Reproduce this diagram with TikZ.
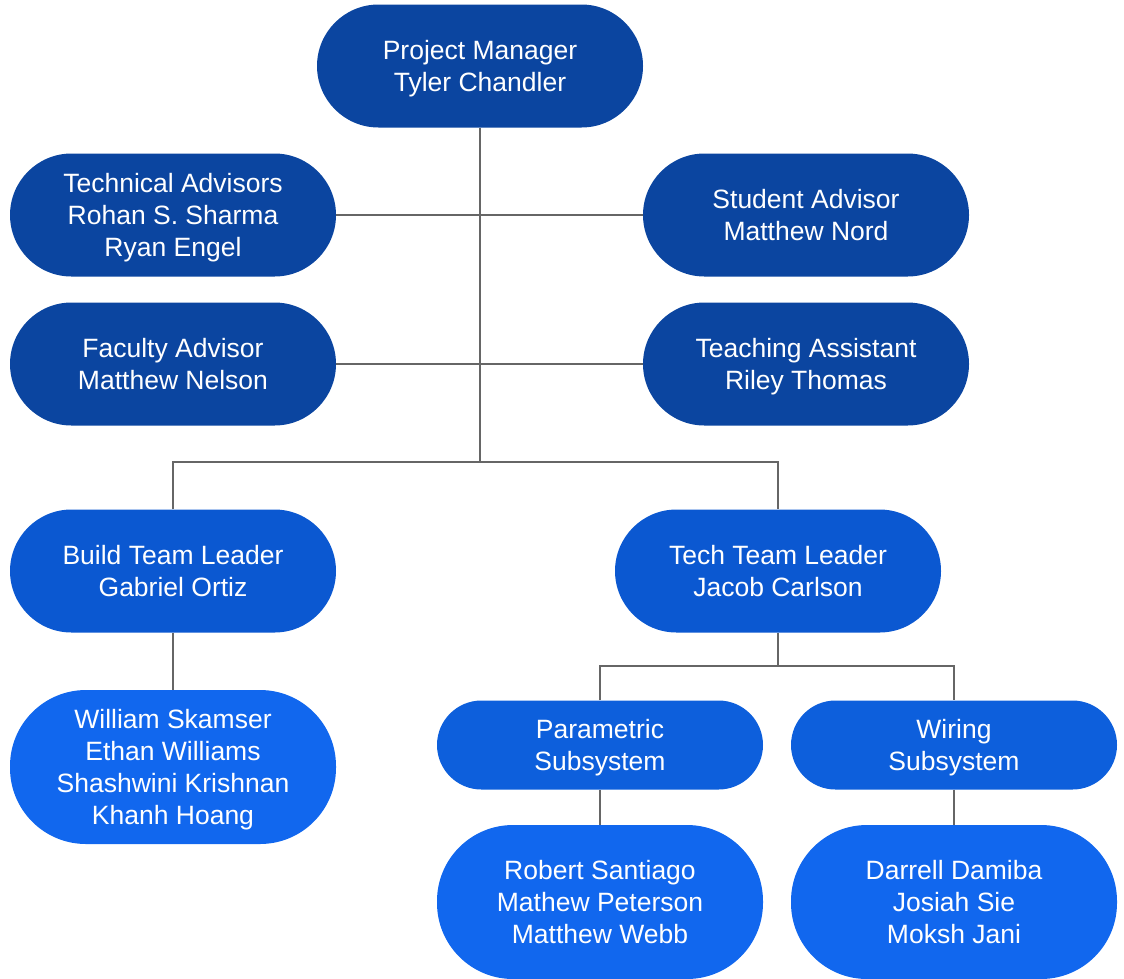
\documentclass[tikz,border=0pt]{standalone}
\usepackage{fontspec}
\setmainfont{Liberation Sans}
\usetikzlibrary{backgrounds}
\definecolor{lead}{HTML}{0B45A0}
\definecolor{team}{HTML}{0B58D1}
\definecolor{subsys}{HTML}{0D5FDC}
\definecolor{member}{HTML}{1167EE}
\definecolor{wire}{HTML}{666666}
\tikzset{
  x=1pt, y=-1pt,
  pill/.style={rectangle, inner sep=0pt, text=white, align=center,
    minimum width=326pt, minimum height=123pt, rounded corners=61.5pt,
    text depth=0pt,
    font=\fontsize{26.5}{32}\selectfont},
  tall/.style={pill, minimum height=154pt, rounded corners=76pt},
  slim/.style={pill, minimum height=89pt, rounded corners=44.5pt},
  link/.style={draw=wire, line width=2pt},
}
\begin{document}
\begin{tikzpicture}
\useasboundingbox (0,0) rectangle (1124,978);
% management layer
\node[pill, fill=lead] (pm)  at (480,66)  {Project Manager\\Tyler Chandler};
\node[pill, fill=lead] (tech) at (173,215) {Technical Advisors\\Rohan S. Sharma\\Ryan Engel};
\node[pill, fill=lead] (stud) at (806,215) {Student Advisor\\Matthew Nord};
\node[pill, fill=lead] (fac)  at (173,364) {Faculty Advisor\\Matthew Nelson};
\node[pill, fill=lead] (ta)   at (806,364) {Teaching Assistant\\Riley Thomas};
% team leaders
\node[pill, fill=team] (build) at (173,571) {Build Team Leader\\Gabriel Ortiz};
\node[pill, fill=team] (techl) at (778,571) {Tech Team Leader\\Jacob Carlson};
% build team members
\node[tall, fill=member] (bmem) at (173,767) {William Skamser\\Ethan Williams\\Shashwini Krishnan\\Khanh Hoang};
% subsystems
\node[slim, fill=subsys] (param) at (600,745) {Parametric\\Subsystem};
\node[slim, fill=subsys] (wiring) at (954,745) {Wiring\\Subsystem};
\node[tall, fill=member] (pmem) at (600,902) {Robert Santiago\\Mathew Peterson\\Matthew Webb};
\node[tall, fill=member] (wmem) at (954,902) {Darrell Damiba\\Josiah Sie\\Moksh Jani};
% junction points
\coordinate (hub) at (480,462);
\coordinate (split) at (778,666);
\begin{scope}[on background layer]
\draw[link] (pm.south) -- (hub);
\draw[link] (tech.east) -- (stud.west);
\draw[link] (fac.east) -- (ta.west);
\draw[link] (build.north) |- (hub) -| (techl.north);
\draw[link] (build.south) -- (bmem.north);
\draw[link] (techl.south) -- (split);
\draw[link] (param.north) |- (split) -| (wiring.north);
\draw[link] (param.south) -- (pmem.north);
\draw[link] (wiring.south) -- (wmem.north);
\end{scope}
\end{tikzpicture}
\end{document}
